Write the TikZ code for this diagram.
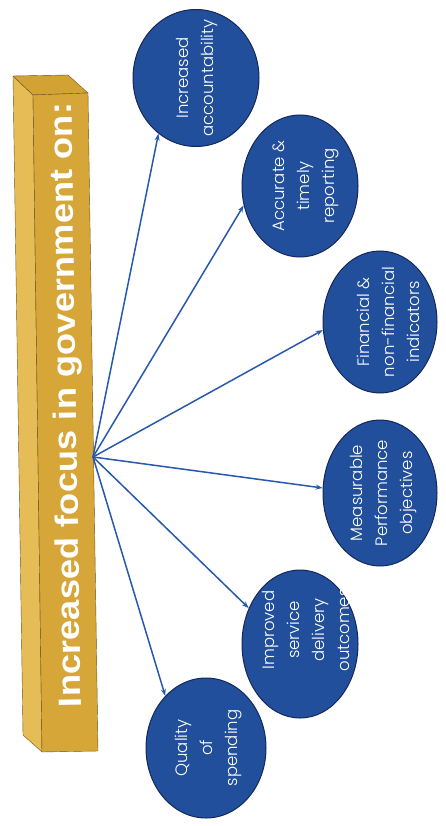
\documentclass[tikz,border=0pt]{standalone}
\usepackage{fontspec}
\setmainfont{Poppins}[UprightFont={* Light}]
\newfontfamily\barfont{Liberation Sans}
\usetikzlibrary{shapes.geometric,arrows.meta}

\definecolor{bubblue}{RGB}{33,79,155}
\definecolor{bubedge}{RGB}{22,40,90}
\definecolor{linkblue}{RGB}{40,88,172}
\definecolor{goldfront}{RGB}{214,166,56}
\definecolor{goldside}{RGB}{230,188,86}
\definecolor{goldtop}{RGB}{210,162,52}
\definecolor{goldedge}{RGB}{110,85,30}

\begin{document}
\begin{tikzpicture}[
    x=1pt, y=-1pt,
    bubble/.style={draw=bubedge, fill=bubblue, ellipse, line width=1pt, inner sep=0pt},
    bubtext/.style={text=white, rotate=90, align=center, font=\fontsize{16.5}{25}\selectfont},
    link/.style={draw=linkblue, line width=1.5pt, -{Stealth[length=7pt,width=5pt]}}
]
\useasboundingbox (0,0) rectangle (445,826);

% Bar
\filldraw[fill=goldside, draw=goldedge, line join=round] (13,76) -- (33,95) -- (42,752) -- (23,735) -- cycle;
\filldraw[fill=goldtop, draw=goldedge, line join=round] (13,76) -- (68,75) -- (88,93) -- (33,95) -- cycle;
\filldraw[fill=goldfront, draw=goldedge, line join=round] (33,95) -- (88,93) -- (98,751) -- (42,752) -- cycle;
\node[text=white, inner sep=0pt, rotate=90.9, xscale=1.07, yscale=0.95, font=\barfont\bfseries\fontsize{34}{34}\selectfont] (title) at (68,405) {Increased focus in government on:};
\coordinate (hub) at (93,457);

% Bubbles
\node[bubble, minimum width=126pt, minimum height=137pt] (acc) at (196,78) {};
\node[bubble, minimum width=116pt, minimum height=142pt] (rep) at (300,186) {};
\node[bubble, minimum width=114pt, minimum height=142pt] (ind) at (380,322) {};
\node[bubble, minimum width=114pt, minimum height=146pt] (obj) at (380,493) {};
\node[bubble, minimum width=116pt, minimum height=148pt] (del) at (300,644) {};
\node[bubble, minimum width=120pt, minimum height=140pt] (qual) at (206,748) {};

% Labels
\node[bubtext] (accT) at (197,78) {Increased\\accountability};
\node[bubtext] (repT) at (306,186) {Accurate \&\\timely\\reporting};
\node[bubtext] (indT) at (388,322) {Financial \&\\non-financial\\indicators};
\node[bubtext] (objT) at (384,493) {Measurable\\Performance\\objectives};
\node[bubtext] (delT) at (306,630) {Improved\\service\\delivery\\outcomes};
\node[bubtext] (qualT) at (209,748) {Quality\\of\\spending};

% Arrows
\draw[link] (hub) -- (acc.236);
\draw[link] (hub) -- (rep.199);
\draw[link] (hub) -- (ind.188);
\draw[link] (hub) -- (obj.175);
\draw[link] (hub) -- (del.145);
\draw[link] (hub) -- (qual.128);

\end{tikzpicture}
\end{document}
